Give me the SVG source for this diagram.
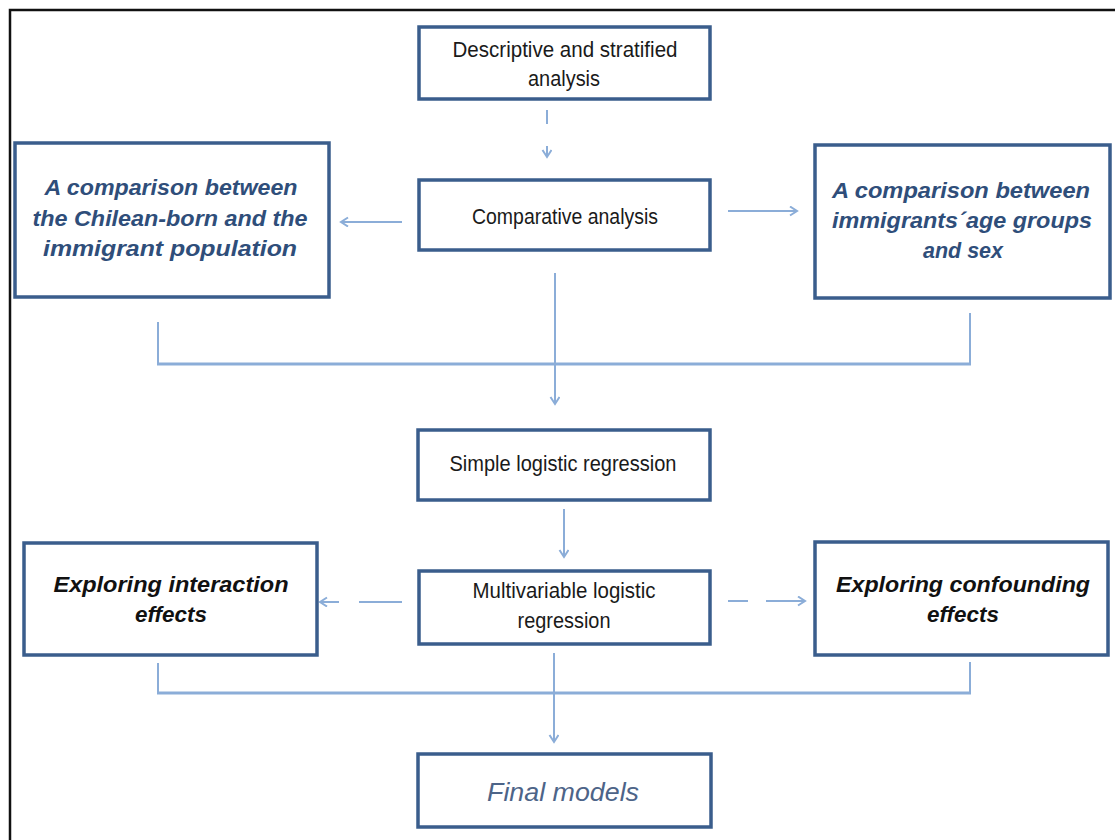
<svg xmlns="http://www.w3.org/2000/svg" width="1115" height="840" viewBox="0 0 1115 840">
  <style>
    .box { fill: #ffffff; stroke: #3a5d8c; stroke-width: 3.5; }
    .plain { font-family: "Liberation Sans", Arial, sans-serif; font-size: 22px; fill: #1a1a1a; text-anchor: middle; }
    .blue { font-family: "Liberation Sans", Arial, sans-serif; font-size: 22px; font-style: italic; font-weight: bold; fill: #2f4e7a; text-anchor: middle; }
    .dark { font-family: "Liberation Sans", Arial, sans-serif; font-size: 22px; font-style: italic; font-weight: bold; fill: #111111; text-anchor: middle; }
    .soft { font-family: "Liberation Sans", Arial, sans-serif; font-size: 25px; font-style: italic; fill: #4d6488; text-anchor: middle; }
    .link { fill: none; stroke: #8badd8; stroke-width: 2; }
    .bus { fill: none; stroke: #8badd8; stroke-width: 3; }
  </style>
  <defs>
    <marker id="chev" markerUnits="userSpaceOnUse" markerWidth="12" markerHeight="12" refX="8" refY="5" orient="auto">
      <path d="M1,0.5 L8,5 L1,9.5" fill="none" stroke="#8badd8" stroke-width="2"/>
    </marker>
  </defs>

  <rect width="1115" height="840" fill="#ffffff"/>
  <!-- frame -->
  <rect x="10" y="10" width="1200" height="900" fill="none" stroke="#111111" stroke-width="2.5"/>

  <g id="connectors">
    <path class="link" d="M547 110 V124 M547 146 V157" marker-end="url(#chev)"/>
    <path class="link" d="M402 222 H341" marker-end="url(#chev)"/>
    <path class="link" d="M728 211 H797" marker-end="url(#chev)"/>
    <path class="link" d="M555 273 V404" marker-end="url(#chev)"/>
    <path class="link" d="M158 322 V364 M970 313 V364"/>
    <path class="bus" d="M157 364 H971"/>
    <path class="link" d="M564 509 V557" marker-end="url(#chev)"/>
    <path class="link" d="M402 602 H359 M339 602 H320" marker-end="url(#chev)"/>
    <path class="link" d="M728 601 H748 M766 601 H805" marker-end="url(#chev)"/>
    <path class="link" d="M554 653 V742" marker-end="url(#chev)"/>
    <path class="link" d="M158 663 V693 M970 662 V693"/>
    <path class="bus" d="M157 693 H971"/>
  </g>

  <g id="descriptive">
    <rect class="box" x="419" y="27" width="291" height="72"/>
    <text class="plain" x="565" y="57" textLength="225" lengthAdjust="spacingAndGlyphs">Descriptive  and stratified</text>
    <text class="plain" x="564" y="86" textLength="72" lengthAdjust="spacingAndGlyphs">analysis</text>
  </g>

  <g id="comparative">
    <rect class="box" x="419" y="180" width="291" height="70"/>
    <text class="plain" x="565" y="224" textLength="186" lengthAdjust="spacingAndGlyphs">Comparative analysis</text>
  </g>

  <g id="chilean-vs-immigrant">
    <rect class="box" x="15" y="143" width="314" height="154"/>
    <text class="blue" x="171" y="195" textLength="253" lengthAdjust="spacingAndGlyphs">A comparison between</text>
    <text class="blue" x="170" y="226" textLength="275" lengthAdjust="spacingAndGlyphs">the Chilean-born and the</text>
    <text class="blue" x="170" y="256" textLength="254" lengthAdjust="spacingAndGlyphs">immigrant population</text>
  </g>

  <g id="age-sex">
    <rect class="box" x="815" y="145" width="295" height="153"/>
    <text class="blue" x="961" y="198" textLength="258" lengthAdjust="spacingAndGlyphs">A comparison between</text>
    <text class="blue" x="962" y="228" textLength="260" lengthAdjust="spacingAndGlyphs">immigrants´age groups</text>
    <text class="blue" x="963" y="258" textLength="80" lengthAdjust="spacingAndGlyphs">and sex</text>
  </g>

  <g id="simple-logistic">
    <rect class="box" x="418" y="430" width="292" height="70"/>
    <text class="plain" x="563" y="471" textLength="227" lengthAdjust="spacingAndGlyphs">Simple logistic regression</text>
  </g>

  <g id="multivariable-logistic">
    <rect class="box" x="419" y="571" width="291" height="73"/>
    <text class="plain" x="564" y="598" textLength="183" lengthAdjust="spacingAndGlyphs">Multivariable logistic</text>
    <text class="plain" x="564" y="628" textLength="93" lengthAdjust="spacingAndGlyphs">regression</text>
  </g>

  <g id="interaction">
    <rect class="box" x="24" y="543" width="293" height="112"/>
    <text class="dark" x="171" y="592" textLength="235" lengthAdjust="spacingAndGlyphs">Exploring interaction</text>
    <text class="dark" x="171" y="622" textLength="72" lengthAdjust="spacingAndGlyphs">effects</text>
  </g>

  <g id="confounding">
    <rect class="box" x="815" y="542" width="293" height="113"/>
    <text class="dark" x="963" y="592" textLength="254" lengthAdjust="spacingAndGlyphs">Exploring confounding</text>
    <text class="dark" x="963" y="622" textLength="72" lengthAdjust="spacingAndGlyphs">effects</text>
  </g>

  <g id="final-models">
    <rect class="box" x="418" y="754" width="293" height="73"/>
    <text class="soft" x="563" y="801" textLength="152" lengthAdjust="spacingAndGlyphs">Final models</text>
  </g>
</svg>
